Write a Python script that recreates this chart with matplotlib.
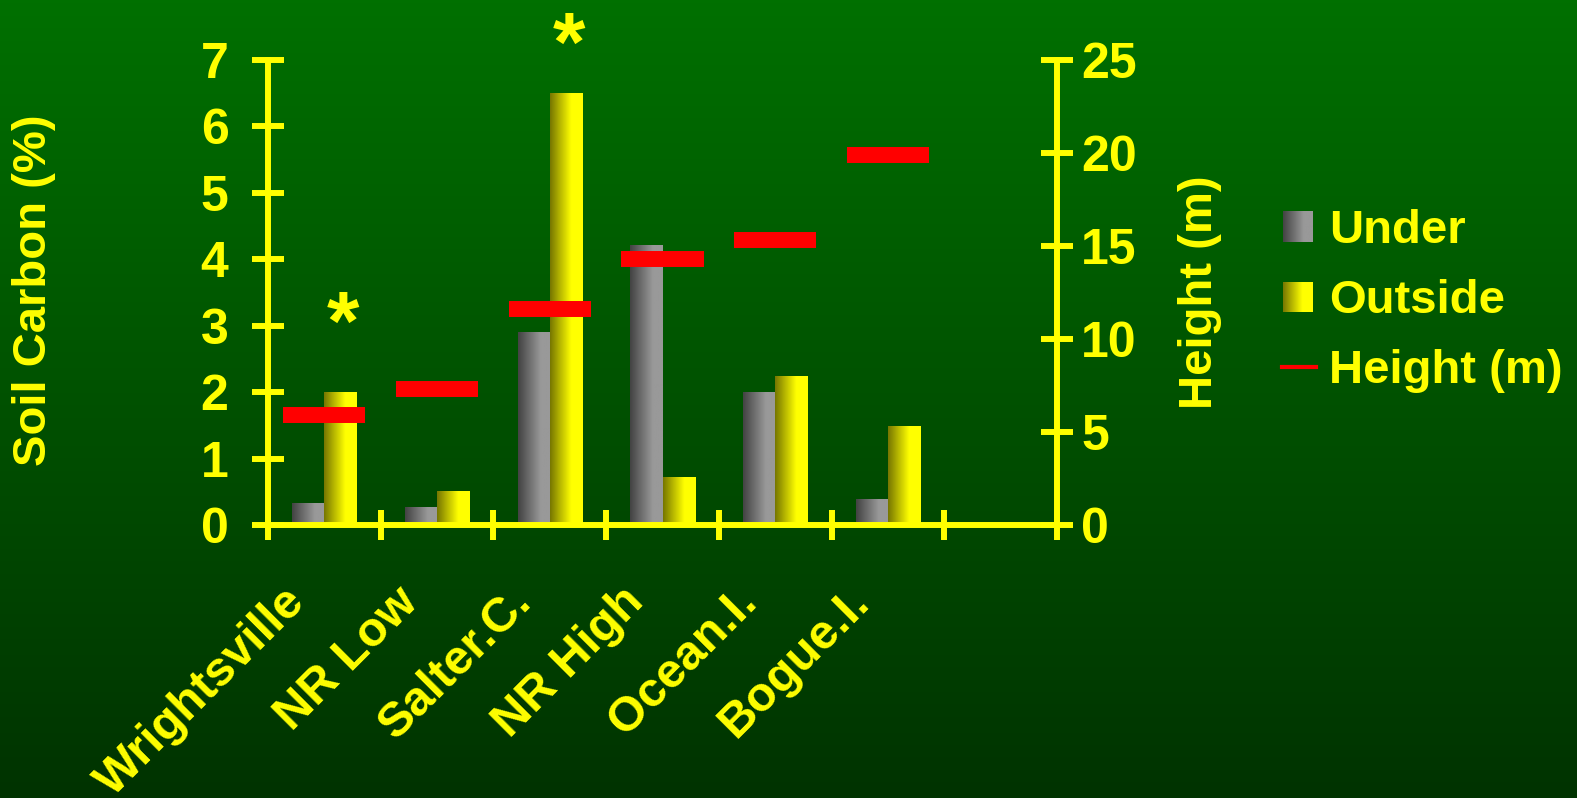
import numpy as np
import matplotlib
matplotlib.use("Agg")
import matplotlib.pyplot as plt
from matplotlib.colors import LinearSegmentedColormap
from matplotlib.transforms import offset_copy

# values
sites = ['Wrightsville', 'NR Low', 'Salter.C.', 'NR High', 'Ocean.I.', 'Bogue.I.']
under = [0.32, 0.26, 2.9, 4.2, 2.0, 0.38]        # soil carbon (%) under canopy
outside = [2.0, 0.5, 6.49, 0.71, 2.24, 1.49]     # soil carbon (%) outside
height_m = [5.9, 7.3, 11.6, 14.3, 15.3, 19.9]    # height (m), right axis
star_sites = ['Wrightsville', 'Salter.C.']       # significant differences
star_y = [3.33, 7.53]

YEL = '#ffff00'
RED = '#ff0000'
plt.rcParams['font.family'] = ['Liberation Sans', 'DejaVu Sans']
plt.rcParams['font.weight'] = 'bold'

W, H = 1577, 798
fig = plt.figure(figsize=(W / 100, H / 100), dpi=100)

# green gradient background
bg = fig.add_axes([0, 0, 1, 1], zorder=-10)
bg_cmap = LinearSegmentedColormap.from_list('bg', ['#003300', '#007000'])
bg.imshow(np.linspace(1, 0, 256).reshape(-1, 1), cmap=bg_cmap, aspect='auto',
          extent=[0, 1, 0, 1])
bg.axis('off')

grey_cmap = LinearSegmentedColormap.from_list('grey', [(0, '#434343'), (0.7, '#999999'), (1, '#999999')])
yel_cmap = LinearSegmentedColormap.from_list('yel', [(0, '#777700'), (0.65, YEL), (1, YEL)])
grad = np.linspace(0, 1, 64).reshape(1, -1)


def gradient_fill(axe, bars, cmap):
    for r in bars:
        r.set_facecolor('none')
        r.set_edgecolor('none')
        x0, y0 = r.get_xy()
        axe.imshow(grad, cmap=cmap, aspect='auto', zorder=2,
                   extent=[x0, x0 + r.get_width(), y0, y0 + r.get_height()])


ax = fig.add_axes([268 / W, 1 - 525 / H, (1057 - 268) / W, 465 / H])
ax.patch.set_alpha(0)
x = np.arange(len(sites)) + 0.5
w = 0.284
b1 = ax.bar(x - w / 2, under, w)
b2 = ax.bar(x + w / 2, outside, w)
gradient_fill(ax, b1, grey_cmap)
gradient_fill(ax, b2, yel_cmap)

for s, y in zip(star_sites, star_y):
    i = sites.index(s)
    t = ax.text(x[i] + w / 2, y, '*', color=YEL, fontsize=60, ha='center', va='center',
                clip_on=False)
    # the glyph sits high in its box, push it down to its centre
    t.set_transform(offset_copy(ax.transData, fig=fig, x=3, y=-24, units='dots'))

ax.set_xlim(0, 7)
ax.set_ylim(0, 7)
for sp in ['top', 'right']:
    ax.spines[sp].set_visible(False)
for sp in ['left', 'bottom']:
    ax.spines[sp].set_color(YEL)
    ax.spines[sp].set_linewidth(4.3)

ax.set_yticks(range(8))
ax.tick_params(axis='y', direction='inout', length=23, width=4.3, color=YEL,
               labelcolor=YEL, labelsize=36, pad=17)
ax.set_xticks(range(8))
ax.set_xticklabels([])
ax.tick_params(axis='x', which='major', direction='inout', length=22, width=4.3, color=YEL)
ax.set_xticks(x, minor=True)
ax.set_xticklabels(sites, minor=True, rotation=45, ha='right', va='top')
ax.tick_params(axis='x', which='minor', length=0, labelcolor=YEL, labelsize=35, pad=39)
for lab in ax.get_xticklabels(minor=True):
    lab.set_transform(offset_copy(lab.get_transform(), fig=fig, x=-10, y=0, units='dots'))

ax2 = ax.twinx()
ax2.patch.set_alpha(0)
ax2.hlines(height_m, x - 0.364, x + 0.364, colors=RED, lw=11.5, zorder=3)
ax2.set_ylim(0, 25)
ax2.set_yticks(range(0, 26, 5))
for sp in ['top', 'left', 'bottom']:
    ax2.spines[sp].set_visible(False)
ax2.spines['right'].set_color(YEL)
ax2.spines['right'].set_linewidth(4.3)
ax2.tick_params(axis='y', direction='inout', length=23, width=4.3, color=YEL,
                labelcolor=YEL, labelsize=36, pad=6)

fig.text(34 / W, 1 - 290 / H, 'Soil Carbon (%)', rotation=90, ha='center', va='center',
         color=YEL, fontsize=34)
fig.text(1200 / W, 1 - 292 / H, 'Height (m)', rotation=90, ha='center', va='center',
         color=YEL, fontsize=34)

# legend, drawn in pixel coordinates
leg = fig.add_axes([0, 0, 1, 1], zorder=5)
leg.axis('off')
leg.imshow(grad, cmap=grey_cmap, aspect='auto', extent=[1283, 1313, 242, 211])
leg.imshow(grad, cmap=yel_cmap, aspect='auto', extent=[1283, 1313, 312, 282])
leg.plot([1282, 1316], [367, 367], color=RED, lw=3)
leg.set_xlim(0, W)
leg.set_ylim(H, 0)
for txt, yb in zip(['Under', 'Outside', 'Height (m)'], [243, 313, 383]):
    leg.text(1329, yb, txt, color=YEL, fontsize=34, ha='left', va='baseline')

fig.savefig('out.png', dpi=100)
